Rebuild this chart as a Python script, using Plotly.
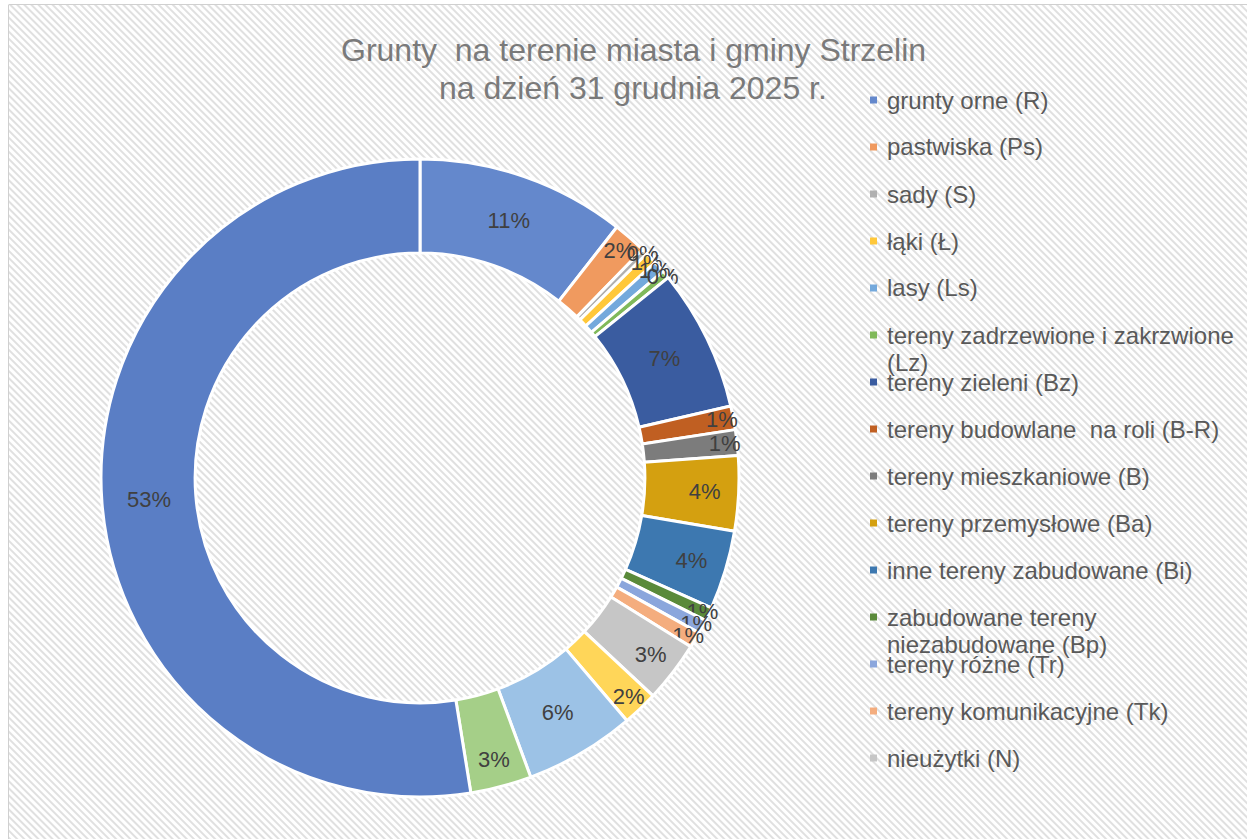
import urllib.parse
import plotly.graph_objects as go

# ---------------- data ----------------
labels = [
    "grunty orne (R)", "pastwiska (Ps)", "sady (S)", "łąki (Ł)", "lasy (Ls)",
    "tereny zadrzewione i zakrzwione (Lz)", "tereny zieleni (Bz)",
    "tereny budowlane  na roli (B-R)", "tereny mieszkaniowe (B)",
    "tereny przemysłowe (Ba)", "inne tereny zabudowane (Bi)",
    "zabudowane tereny niezabudowane (Bp)", "tereny różne (Tr)",
    "tereny komunikacyjne (Tk)", "nieużytki (N)",
    "grunty pod wodami (W)", "drogi (dr)", "użytki ekologiczne (E)", "użytki rolne (UR)",
]
values = [10.6, 1.7, 0.3, 0.6, 0.6, 0.4, 7.2, 1.2, 1.3, 3.8, 4.0, 0.7, 0.7, 0.8,
          3.1, 1.8, 5.6, 3.1, 52.6]
colors = [
    "#6488cc", "#f09a5f", "#b0b0b0", "#ffc83a", "#74a9dc", "#80b95a", "#3a5ca0",
    "#c05f22", "#7c7c7c", "#d4a010", "#3d78b0", "#5a8a3a", "#8ba6dc", "#f4ad7e",
    "#c6c6c6", "#ffd659", "#9cc2e6", "#a5cf88", "#5a7ec5",
]
# legend entries visible in the (clipped) chart legend, with their line breaks
legend_lines = [
    ["grunty orne (R)"], ["pastwiska (Ps)"], ["sady (S)"], ["łąki (Ł)"], ["lasy (Ls)"],
    ["tereny zadrzewione i zakrzwione", "(Lz)"], ["tereny zieleni (Bz)"],
    ["tereny budowlane  na roli (B-R)"], ["tereny mieszkaniowe (B)"],
    ["tereny przemysłowe (Ba)"], ["inne tereny zabudowane (Bi)"],
    ["zabudowane tereny", "niezabudowane (Bp)"], ["tereny różne (Tr)"],
    ["tereny komunikacyjne (Tk)"], ["nieużytki (N)"],
]
title_lines = ["Grunty  na terenie miasta i gminy Strzelin", "na dzień 31 grudnia 2025 r."]

W, H = 1247, 839
FONT = "Liberation Sans, Arial, sans-serif"

fig = go.Figure()
fig.add_trace(go.Pie(
    labels=labels, values=values, sort=False, direction="clockwise", rotation=0,
    hole=0.705,
    marker=dict(colors=colors, line=dict(color="white", width=3)),
    texttemplate="%{percent:.0%}", textposition="inside",
    insidetextorientation="horizontal",
    textfont=dict(family=FONT, size=22, color="#404040"),
    domain=dict(x=[101 / W, 739 / W], y=[(H - 797) / H, (H - 159) / H]),
    showlegend=False, hoverinfo="label+percent",
))

# striped background (SVG pattern)
svg = (
    "<svg xmlns='http://www.w3.org/2000/svg' width='1238' height='834'>"
    "<defs><pattern id='p' width='5' height='5' patternUnits='userSpaceOnUse' "
    "patternTransform='rotate(-45)'><rect width='5' height='5' fill='white'/>"
    "<rect width='2' height='5' fill='#e0e0e0'/></pattern></defs>"
    "<rect width='100%' height='100%' fill='url(#p)'/></svg>"
)
src = "data:image/svg+xml;charset=utf-8," + urllib.parse.quote(svg)
images = [dict(source=src, xref="paper", yref="paper", x=9 / W, y=1 - 5 / H,
               sizex=(W - 9) / W, sizey=(H - 5) / H, xanchor="left", yanchor="top",
               sizing="stretch", layer="below")]

shapes = [dict(type="line", xref="paper", yref="paper", x0=8.5 / W, x1=8.5 / W,
               y0=0, y1=1 - 5 / H, line=dict(color="#d0d0d0", width=1)),
          dict(type="line", xref="paper", yref="paper", x0=8.5 / W, x1=1,
               y0=1 - 4.5 / H, y1=1 - 4.5 / H, line=dict(color="#d0d0d0", width=1))]

annotations = []
# title
for i, t in enumerate(title_lines):
    annotations.append(dict(text=t, xref="paper", yref="paper", x=633 / W,
                            y=1 - (50 + 38 * i) / H, xanchor="center", yanchor="middle",
                            showarrow=False,
                            font=dict(family=FONT, size=32, color="#7a7a7a")))
# legend
for i, lines in enumerate(legend_lines):
    yc = 100 + 47 * i
    shapes.append(dict(type="rect", xref="paper", yref="paper",
                       x0=870 / W, x1=877 / W, y0=1 - (yc + 3.5) / H, y1=1 - (yc - 3.5) / H,
                       fillcolor=colors[i], line=dict(width=0)))
    for j, ln in enumerate(lines):
        annotations.append(dict(text=ln, xref="paper", yref="paper", x=885 / W,
                                y=1 - (yc + 27 * j) / H, xanchor="left", yanchor="middle",
                                showarrow=False,
                                font=dict(family=FONT, size=24, color="#595959")))

fig.update_layout(
    width=W, height=H, margin=dict(l=0, r=0, t=0, b=0),
    paper_bgcolor="white", plot_bgcolor="white",
    uniformtext=dict(minsize=22, mode="show"),
    images=images, shapes=shapes, annotations=annotations,
)
fig.write_html("out.html", config={"displayModeBar": False},
               post_script="document.body.style.margin='0';")
